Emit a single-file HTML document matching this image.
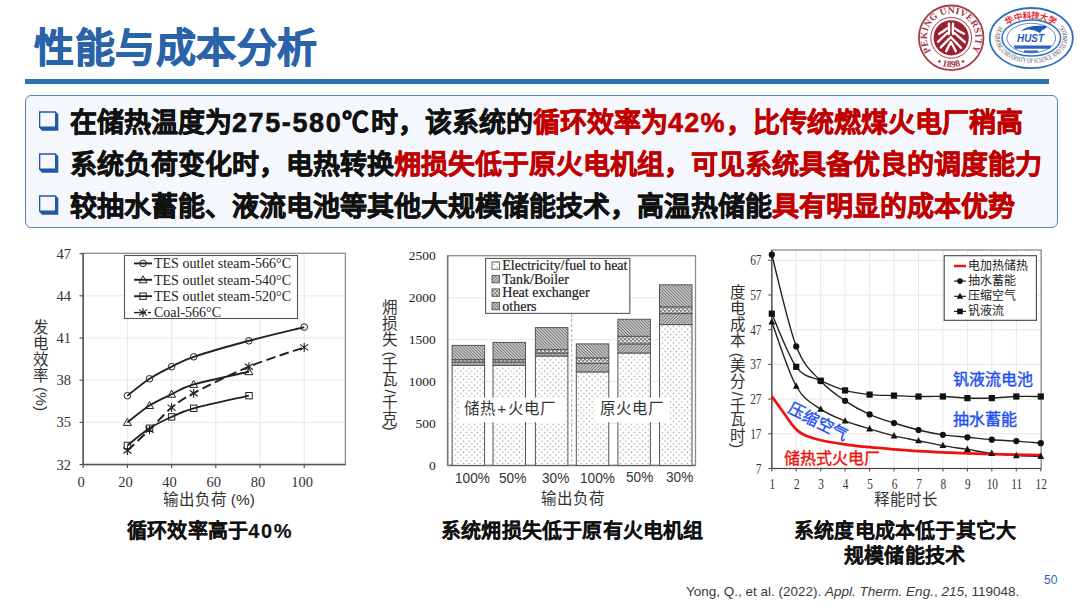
<!DOCTYPE html>
<html lang="zh-CN"><head><meta charset="utf-8">
<style>
html,body{margin:0;padding:0;}
body{width:1080px;height:608px;position:relative;overflow:hidden;background:#fff;font-family:"Liberation Sans",sans-serif;}
.abs{position:absolute;white-space:nowrap;}
#title{left:34px;top:23px;font-size:40px;line-height:50px;font-weight:bold;color:#2b63aa;letter-spacing:0.5px;-webkit-text-stroke:0.9px #2b63aa;}
#rule{left:25px;top:79.4px;width:1023.5px;height:4.5px;background:#2e72b6;}
#box{left:25px;top:95px;width:1032.5px;height:133px;box-sizing:border-box;border:1.8px solid #5a84be;border-radius:6px;background:#f4f7fc;}
.bl{left:70px;font-size:27px;line-height:30px;font-weight:bold;color:#111;-webkit-text-stroke:0.6px currentColor;}
.red{color:#c00000;}
.cap{font-size:20px;line-height:24px;font-weight:bold;color:#111;-webkit-text-stroke:0.15px currentColor;letter-spacing:0.2px;}
.vl{font-size:16px;line-height:18px;color:#333;writing-mode:vertical-rl;text-orientation:mixed;height:200px;}
.rot{display:inline-block;transform:rotate(90deg);}
.lab{font-size:15.5px;line-height:18px;color:#333;font-weight:300;}
.pct{transform:scaleX(0.88);transform-origin:0 50%;}
.blue{color:#1e4ff0;font-size:16px;line-height:18px;-webkit-text-stroke:0.4px currentColor;}
</style></head><body>
<div id="title" class="abs">性能与成本分析</div>
<div id="rule" class="abs"></div>
<div id="box" class="abs"></div>
<svg class="abs" style="left:0;top:0" width="1080" height="608">
  <defs>
    <path id="chk" fill="#2158a6" fill-rule="evenodd" d="M0 0H16.5L19.3 3V19.6H3L0 16.4Z M1.3 1.5V15.4H16V1.5Z"/>
  </defs>
  <use href="#chk" x="39" y="111.2"/>
  <use href="#chk" x="39" y="153.2"/>
  <use href="#chk" x="39" y="195.2"/>

<!-- PKU logo -->
<g id="pku">
  <defs>
    <path id="pkuTop" d="M931.05 51.39 A24.30 24.30 0 1 1 971.35 51.39"/>
    <path id="pkuBot" d="M935.51 62.90 A29.60 29.60 0 0 0 966.89 62.90"/>
    <path id="hustBot" d="M999.34 26.36 A36.20 25.00 0 1 0 1063.26 26.36"/>
    <path id="hustTop" d="M1004.89 28.20 A30.50 19.80 0 0 1 1057.71 28.20"/>
  </defs>
  <circle cx="951.2" cy="37.8" r="32.3" fill="#fff" stroke="#a83a4c" stroke-width="1.8"/>
  <circle cx="951.2" cy="37.8" r="20.4" fill="none" stroke="#a83a4c" stroke-width="1"/>
  <circle cx="951.2" cy="37.8" r="17.6" fill="#9c1f30"/>
  <text style="font-family:'Liberation Serif',serif;font-size:9.6px;font-weight:bold" fill="#a33447"><textPath href="#pkuTop" textLength="104" lengthAdjust="spacing">PEKING UNIVERSITY</textPath></text>
  <text style="font-family:'Liberation Serif',serif;font-size:9.6px;font-weight:bold" fill="#a33447" text-anchor="middle"><textPath href="#pkuBot" startOffset="50%">• 1898 •</textPath></text>
  <g fill="none" stroke="#fff" stroke-width="2.35" stroke-linecap="round">
    <path d="M948.9 23.6 Q949.3 29 948.9 34"/>
    <path d="M953 23.6 Q952.6 29 953 34"/>
    <path d="M947.3 28.2 Q943 31.5 939.2 33.8"/>
    <path d="M947.3 33.2 Q942 38 938 41.8"/>
    <path d="M954.6 28.2 Q959 31.5 964 33.8"/>
    <path d="M954.6 33.2 Q960 38 964.8 42.2"/>
    <path d="M950.9 37.2 Q945 43 940.8 47.4"/>
    <path d="M950.9 37.2 Q956.5 43 961 47.8"/>
    <path d="M950.9 42.2 Q948 47 946.2 51.2"/>
    <path d="M950.9 42.2 Q954 47 955.8 51.2"/>
  </g>
</g>
<!-- HUST logo -->
<g id="hust">
  <ellipse cx="1031.3" cy="38.1" rx="41.6" ry="30.1" fill="#fff" stroke="#2f6fc0" stroke-width="1.8"/>
  <ellipse cx="1031.3" cy="38.1" rx="29.3" ry="18.0" fill="none" stroke="#2f6fc0" stroke-width="1.5"/>
  <ellipse cx="1031.3" cy="38.1" rx="24.3" ry="14.8" fill="none" stroke="#4a82cc" stroke-width="0.9"/>
  <text style="font-family:'Liberation Serif',serif;font-size:7.2px" fill="#555"><textPath href="#hustBot" textLength="127" lengthAdjust="spacingAndGlyphs">HUAZHONG UNIVERSITY OF SCIENCE AND TECHNOLOGY</textPath></text>
  <text style="font-family:'Liberation Sans',sans-serif;font-size:8.5px;font-weight:bold" fill="#e52a2a" text-anchor="middle"><textPath href="#hustTop" startOffset="50%" textLength="50" lengthAdjust="spacing">华中科技大学</textPath></text>
  <path d="M1021 31.5 Q1026 24.5 1047 26 Q1046 29 1042 30 L1040 33 Q1034 29 1028 29.5 Q1024 30 1021 31.5Z" fill="#1d5cb5"/>
  <text x="1030.5" y="41.5" text-anchor="middle" style="font-family:'Liberation Sans',sans-serif;font-size:10.5px;font-weight:bold;font-style:italic" fill="#1d5cb5" textLength="27" lengthAdjust="spacingAndGlyphs">HUST</text>
  <path d="M1013.5 45.6 H1051.5 L1050 48.8 H1015 Z" fill="#2a66bb"/>
  <rect x="1024" y="50.4" width="14" height="2.4" fill="#3a72c0"/>
</g>
<g id="c1">
<line x1="127.4" y1="253.3" x2="127.4" y2="464.6" stroke="#e8e8e8" stroke-width="1"/>
<line x1="171.6" y1="253.3" x2="171.6" y2="464.6" stroke="#e8e8e8" stroke-width="1"/>
<line x1="215.8" y1="253.3" x2="215.8" y2="464.6" stroke="#e8e8e8" stroke-width="1"/>
<line x1="260.0" y1="253.3" x2="260.0" y2="464.6" stroke="#e8e8e8" stroke-width="1"/>
<line x1="304.2" y1="253.3" x2="304.2" y2="464.6" stroke="#e8e8e8" stroke-width="1"/>
<line x1="83.2" y1="422.4" x2="345.4" y2="422.4" stroke="#e8e8e8" stroke-width="1"/>
<line x1="83.2" y1="380.2" x2="345.4" y2="380.2" stroke="#e8e8e8" stroke-width="1"/>
<line x1="83.2" y1="338.0" x2="345.4" y2="338.0" stroke="#e8e8e8" stroke-width="1"/>
<line x1="83.2" y1="295.8" x2="345.4" y2="295.8" stroke="#e8e8e8" stroke-width="1"/>
<rect x="83.2" y="253.3" width="262.2" height="211.3" fill="none" stroke="#8c8c8c" stroke-width="1.3"/>
<line x1="83.2" y1="253.3" x2="83.2" y2="464.6" stroke="#555" stroke-width="1.5"/>
<line x1="83.2" y1="464.6" x2="345.4" y2="464.6" stroke="#555" stroke-width="1.5"/>
<line x1="79.5" y1="464.6" x2="83.2" y2="464.6" stroke="#555" stroke-width="1.2"/>
<text x="71" y="469.6" text-anchor="end" style="font-family:'Liberation Serif',serif;font-size:14.5px" fill="#333">32</text>
<line x1="79.5" y1="422.4" x2="83.2" y2="422.4" stroke="#555" stroke-width="1.2"/>
<text x="71" y="427.4" text-anchor="end" style="font-family:'Liberation Serif',serif;font-size:14.5px" fill="#333">35</text>
<line x1="79.5" y1="380.2" x2="83.2" y2="380.2" stroke="#555" stroke-width="1.2"/>
<text x="71" y="385.2" text-anchor="end" style="font-family:'Liberation Serif',serif;font-size:14.5px" fill="#333">38</text>
<line x1="79.5" y1="338.0" x2="83.2" y2="338.0" stroke="#555" stroke-width="1.2"/>
<text x="71" y="343.0" text-anchor="end" style="font-family:'Liberation Serif',serif;font-size:14.5px" fill="#333">41</text>
<line x1="79.5" y1="295.8" x2="83.2" y2="295.8" stroke="#555" stroke-width="1.2"/>
<text x="71" y="300.8" text-anchor="end" style="font-family:'Liberation Serif',serif;font-size:14.5px" fill="#333">44</text>
<line x1="79.5" y1="253.6" x2="83.2" y2="253.6" stroke="#555" stroke-width="1.2"/>
<text x="71" y="258.6" text-anchor="end" style="font-family:'Liberation Serif',serif;font-size:14.5px" fill="#333">47</text>
<line x1="83.2" y1="464.6" x2="83.2" y2="468" stroke="#555" stroke-width="1.2"/>
<text x="81.2" y="487" text-anchor="middle" style="font-family:'Liberation Serif',serif;font-size:14.5px" fill="#333">0</text>
<line x1="127.4" y1="464.6" x2="127.4" y2="468" stroke="#555" stroke-width="1.2"/>
<text x="125.4" y="487" text-anchor="middle" style="font-family:'Liberation Serif',serif;font-size:14.5px" fill="#333">20</text>
<line x1="171.6" y1="464.6" x2="171.6" y2="468" stroke="#555" stroke-width="1.2"/>
<text x="169.6" y="487" text-anchor="middle" style="font-family:'Liberation Serif',serif;font-size:14.5px" fill="#333">40</text>
<line x1="215.8" y1="464.6" x2="215.8" y2="468" stroke="#555" stroke-width="1.2"/>
<text x="213.8" y="487" text-anchor="middle" style="font-family:'Liberation Serif',serif;font-size:14.5px" fill="#333">60</text>
<line x1="260.0" y1="464.6" x2="260.0" y2="468" stroke="#555" stroke-width="1.2"/>
<text x="258.0" y="487" text-anchor="middle" style="font-family:'Liberation Serif',serif;font-size:14.5px" fill="#333">80</text>
<line x1="304.2" y1="464.6" x2="304.2" y2="468" stroke="#555" stroke-width="1.2"/>
<text x="302.2" y="487" text-anchor="middle" style="font-family:'Liberation Serif',serif;font-size:14.5px" fill="#333">100</text>
<path d="M127.40 395.66 C131.08 392.84 142.13 383.60 149.50 378.77 C156.87 373.94 164.23 370.33 171.60 366.67 C178.97 363.01 180.81 361.14 193.70 356.82 C206.59 352.51 230.53 345.73 248.95 340.78 C267.37 335.84 294.99 329.41 304.20 327.14" fill="none" stroke="#222" stroke-width="1.9"/>
<path d="M127.40 422.39 C131.08 419.58 142.13 410.20 149.50 405.51 C156.87 400.82 164.23 397.77 171.60 394.25 C178.97 390.73 180.81 388.15 193.70 384.40 C206.59 380.65 239.74 373.85 248.95 371.74" fill="none" stroke="#222" stroke-width="1.9"/>
<path d="M127.40 445.46 C131.08 442.60 142.13 433.06 149.50 428.30 C156.87 423.54 164.23 420.23 171.60 416.90 C178.97 413.57 180.81 411.86 193.70 408.32 C206.59 404.78 239.74 397.77 248.95 395.66" fill="none" stroke="#222" stroke-width="1.9"/>
<path d="M127.40 450.53 C131.08 447.06 142.13 436.86 149.50 429.71 C156.87 422.55 164.23 413.69 171.60 407.62 C178.97 401.54 180.81 400.09 193.70 393.27 C206.59 386.44 230.53 374.32 248.95 366.67 C267.37 359.03 294.99 350.61 304.20 347.40" fill="none" stroke="#222" stroke-width="1.9" stroke-dasharray="9.5 4.5"/>
<circle cx="127.4" cy="395.7" r="3.3" fill="none" stroke="#222" stroke-width="1"/>
<circle cx="149.5" cy="378.8" r="3.3" fill="none" stroke="#222" stroke-width="1"/>
<circle cx="171.6" cy="366.7" r="3.3" fill="none" stroke="#222" stroke-width="1"/>
<circle cx="193.7" cy="356.8" r="3.3" fill="none" stroke="#222" stroke-width="1"/>
<circle cx="248.9" cy="340.8" r="3.3" fill="none" stroke="#222" stroke-width="1"/>
<circle cx="304.2" cy="327.1" r="3.3" fill="none" stroke="#222" stroke-width="1"/>
<path d="M127.4 418.4L131.4 425.4L123.4 425.4Z" fill="none" stroke="#222" stroke-width="1"/>
<path d="M149.5 401.5L153.5 408.5L145.5 408.5Z" fill="none" stroke="#222" stroke-width="1"/>
<path d="M171.6 390.2L175.6 397.2L167.6 397.2Z" fill="none" stroke="#222" stroke-width="1"/>
<path d="M193.7 380.4L197.7 387.4L189.7 387.4Z" fill="none" stroke="#222" stroke-width="1"/>
<path d="M248.9 367.7L252.9 374.7L244.9 374.7Z" fill="none" stroke="#222" stroke-width="1"/>
<rect x="124.2" y="442.3" width="6.4" height="6.4" fill="none" stroke="#222" stroke-width="1"/>
<rect x="146.3" y="425.1" width="6.4" height="6.4" fill="none" stroke="#222" stroke-width="1"/>
<rect x="168.4" y="413.7" width="6.4" height="6.4" fill="none" stroke="#222" stroke-width="1"/>
<rect x="190.5" y="405.1" width="6.4" height="6.4" fill="none" stroke="#222" stroke-width="1"/>
<rect x="245.8" y="392.5" width="6.4" height="6.4" fill="none" stroke="#222" stroke-width="1"/>
<path d="M123.4 447.5L131.4 453.5M123.4 453.5L131.4 447.5M127.4 446.0L127.4 455.0" stroke="#222" stroke-width="1.1"/>
<path d="M145.5 426.7L153.5 432.7M145.5 432.7L153.5 426.7M149.5 425.2L149.5 434.2" stroke="#222" stroke-width="1.1"/>
<path d="M167.6 404.6L175.6 410.6M167.6 410.6L175.6 404.6M171.6 403.1L171.6 412.1" stroke="#222" stroke-width="1.1"/>
<path d="M189.7 390.3L197.7 396.3M189.7 396.3L197.7 390.3M193.7 388.8L193.7 397.8" stroke="#222" stroke-width="1.1"/>
<path d="M244.9 363.7L252.9 369.7M244.9 369.7L252.9 363.7M248.9 362.2L248.9 371.2" stroke="#222" stroke-width="1.1"/>
<path d="M300.2 344.4L308.2 350.4M300.2 350.4L308.2 344.4M304.2 342.9L304.2 351.9" stroke="#222" stroke-width="1.1"/>
<rect x="124.5" y="255.5" width="173" height="63" fill="#fff" stroke="#555" stroke-width="1.1"/>
<line x1="134" y1="263.4" x2="152" y2="263.4" stroke="#222" stroke-width="1.9"/>
<circle cx="143.0" cy="263.4" r="3.3" fill="none" stroke="#222" stroke-width="1"/>
<text x="154" y="268.2" style="font-family:'Liberation Serif',serif;font-size:14px" fill="#222">TES outlet steam-566°C</text>
<line x1="134" y1="279.8" x2="152" y2="279.8" stroke="#222" stroke-width="1.9"/>
<path d="M143.0 275.8L147.0 282.8L139.0 282.8Z" fill="none" stroke="#222" stroke-width="1"/>
<text x="154" y="284.6" style="font-family:'Liberation Serif',serif;font-size:14px" fill="#222">TES outlet steam-540°C</text>
<line x1="134" y1="296.2" x2="152" y2="296.2" stroke="#222" stroke-width="1.9"/>
<rect x="139.8" y="293.0" width="6.4" height="6.4" fill="none" stroke="#222" stroke-width="1"/>
<text x="154" y="301.0" style="font-family:'Liberation Serif',serif;font-size:14px" fill="#222">TES outlet steam-520°C</text>
<line x1="134" y1="312.6" x2="146" y2="312.6" stroke="#222" stroke-width="1.4"/>
<line x1="148" y1="312.6" x2="151" y2="312.6" stroke="#222" stroke-width="1.4"/>
<path d="M139.0 309.6L147.0 315.6M139.0 315.6L147.0 309.6M143.0 308.1L143.0 317.1" stroke="#222" stroke-width="1.1"/>
<text x="154" y="317.4" style="font-family:'Liberation Serif',serif;font-size:14px" fill="#222">Coal-566°C</text>
</g>
<defs><pattern id="dots" width="5.6" height="5.6" patternUnits="userSpaceOnUse"><rect width="5.6" height="5.6" fill="#fff"/><rect x="0.8" y="0.8" width="1.3" height="1.3" fill="#a0a0a0"/><rect x="3.6" y="3.6" width="1.3" height="1.3" fill="#a0a0a0"/></pattern><pattern id="hatch" width="2.2" height="2.2" patternUnits="userSpaceOnUse" patternTransform="rotate(45)"><rect width="2.2" height="2.2" fill="#d2d2d2"/><rect width="0.95" height="2.2" fill="#707070"/></pattern><pattern id="hatch2" width="2.2" height="2.2" patternUnits="userSpaceOnUse" patternTransform="rotate(-45)"><rect width="2.2" height="2.2" fill="#d2d2d2"/><rect width="0.95" height="2.2" fill="#707070"/></pattern><pattern id="check" width="4" height="4" patternUnits="userSpaceOnUse"><rect width="4" height="4" fill="#8a8a8a"/><rect x="0" y="0.5" width="2.2" height="1.4" fill="#f2f2f2"/><rect x="2" y="2.5" width="2.2" height="1.4" fill="#f2f2f2"/></pattern></defs>
<g id="c2">
<line x1="447.6" y1="423.5" x2="695.5" y2="423.5" stroke="#e8e8e8" stroke-width="1"/>
<line x1="447.6" y1="381.6" x2="695.5" y2="381.6" stroke="#e8e8e8" stroke-width="1"/>
<line x1="447.6" y1="339.7" x2="695.5" y2="339.7" stroke="#e8e8e8" stroke-width="1"/>
<line x1="447.6" y1="297.8" x2="695.5" y2="297.8" stroke="#e8e8e8" stroke-width="1"/>
<rect x="447.6" y="255.7" width="247.9" height="209.7" fill="none" stroke="#8c8c8c" stroke-width="1.3"/>
<line x1="447.6" y1="255.7" x2="447.6" y2="465.4" stroke="#777" stroke-width="1.5"/>
<line x1="447.6" y1="465.4" x2="695.5" y2="465.4" stroke="#777" stroke-width="1.5"/>
<text x="435.8" y="469.7" text-anchor="end" style="font-family:'Liberation Serif',serif;font-size:13.5px" fill="#1a1a1a">0</text>
<text x="435.8" y="427.8" text-anchor="end" style="font-family:'Liberation Serif',serif;font-size:13.5px" fill="#1a1a1a">500</text>
<text x="435.8" y="385.9" text-anchor="end" style="font-family:'Liberation Serif',serif;font-size:13.5px" fill="#1a1a1a">1000</text>
<text x="435.8" y="344.0" text-anchor="end" style="font-family:'Liberation Serif',serif;font-size:13.5px" fill="#1a1a1a">1500</text>
<text x="435.8" y="302.1" text-anchor="end" style="font-family:'Liberation Serif',serif;font-size:13.5px" fill="#1a1a1a">2000</text>
<text x="435.8" y="260.2" text-anchor="end" style="font-family:'Liberation Serif',serif;font-size:13.5px" fill="#1a1a1a">2500</text>
<line x1="571.7" y1="314" x2="571.7" y2="465.4" stroke="#aaa" stroke-width="1" stroke-dasharray="3 2"/>
<rect x="452.1" y="365.4" width="32.5" height="100.0" fill="url(#dots)" stroke="#555" stroke-width="1"/>
<rect x="452.1" y="362.0" width="32.5" height="3.4" fill="url(#hatch)" stroke="#555" stroke-width="1"/>
<rect x="452.1" y="359.6" width="32.5" height="2.4" fill="url(#check)" stroke="#555" stroke-width="1"/>
<rect x="452.1" y="345.4" width="32.5" height="14.2" fill="url(#hatch2)" stroke="#555" stroke-width="1"/>
<rect x="493.0" y="365.4" width="32.5" height="100.0" fill="url(#dots)" stroke="#555" stroke-width="1"/>
<rect x="493.0" y="362.0" width="32.5" height="3.4" fill="url(#hatch)" stroke="#555" stroke-width="1"/>
<rect x="493.0" y="359.6" width="32.5" height="2.4" fill="url(#check)" stroke="#555" stroke-width="1"/>
<rect x="493.0" y="342.4" width="32.5" height="17.2" fill="url(#hatch2)" stroke="#555" stroke-width="1"/>
<rect x="535.4" y="356.0" width="32.5" height="109.4" fill="url(#dots)" stroke="#555" stroke-width="1"/>
<rect x="535.4" y="353.0" width="32.5" height="3.0" fill="url(#hatch)" stroke="#555" stroke-width="1"/>
<rect x="535.4" y="349.5" width="32.5" height="3.5" fill="url(#check)" stroke="#555" stroke-width="1"/>
<rect x="535.4" y="327.6" width="32.5" height="21.9" fill="url(#hatch2)" stroke="#555" stroke-width="1"/>
<rect x="576.3" y="371.9" width="32.5" height="93.5" fill="url(#dots)" stroke="#555" stroke-width="1"/>
<rect x="576.3" y="363.5" width="32.5" height="8.4" fill="url(#hatch)" stroke="#555" stroke-width="1"/>
<rect x="576.3" y="357.9" width="32.5" height="5.6" fill="url(#check)" stroke="#555" stroke-width="1"/>
<rect x="576.3" y="343.9" width="32.5" height="14.0" fill="url(#hatch2)" stroke="#555" stroke-width="1"/>
<rect x="617.9" y="353.0" width="32.5" height="112.4" fill="url(#dots)" stroke="#555" stroke-width="1"/>
<rect x="617.9" y="343.9" width="32.5" height="9.1" fill="url(#hatch)" stroke="#555" stroke-width="1"/>
<rect x="617.9" y="336.3" width="32.5" height="7.6" fill="url(#check)" stroke="#555" stroke-width="1"/>
<rect x="617.9" y="319.3" width="32.5" height="17.0" fill="url(#hatch2)" stroke="#555" stroke-width="1"/>
<rect x="659.5" y="324.6" width="32.5" height="140.8" fill="url(#dots)" stroke="#555" stroke-width="1"/>
<rect x="659.5" y="313.6" width="32.5" height="11.0" fill="url(#hatch)" stroke="#555" stroke-width="1"/>
<rect x="659.5" y="306.8" width="32.5" height="6.8" fill="url(#check)" stroke="#555" stroke-width="1"/>
<rect x="659.5" y="284.8" width="32.5" height="22.0" fill="url(#hatch2)" stroke="#555" stroke-width="1"/>
<rect x="485.6" y="258.4" width="144.2" height="55" fill="#fff" stroke="#555" stroke-width="1.1"/>
<rect x="492" y="261.9" width="7.6" height="7.4" fill="url(#dots)" stroke="#555" stroke-width="0.9"/>
<text x="502.3" y="270.2" style="font-family:'Liberation Serif',serif;font-size:14px" fill="#222" stroke="#222" stroke-width="0.2">Electricity/fuel to heat</text>
<rect x="492" y="275.4" width="7.6" height="7.4" fill="url(#hatch)" stroke="#555" stroke-width="0.9"/>
<text x="502.3" y="283.7" style="font-family:'Liberation Serif',serif;font-size:14px" fill="#222" stroke="#222" stroke-width="0.2">Tank/Boiler</text>
<rect x="492" y="288.9" width="7.6" height="7.4" fill="url(#check)" stroke="#555" stroke-width="0.9"/>
<text x="502.3" y="297.2" style="font-family:'Liberation Serif',serif;font-size:14px" fill="#222" stroke="#222" stroke-width="0.2">Heat exchanger</text>
<rect x="492" y="302.4" width="7.6" height="7.4" fill="url(#hatch2)" stroke="#555" stroke-width="0.9"/>
<text x="502.3" y="310.7" style="font-family:'Liberation Serif',serif;font-size:14px" fill="#222" stroke="#222" stroke-width="0.2">others</text>
<rect x="459.7" y="397.6" width="105.3" height="24.6" fill="#fff"/>
<rect x="595" y="397.6" width="74" height="24.6" fill="#fff"/>
</g>
<g id="c3">
<line x1="796.2" y1="250.0" x2="796.2" y2="468.5" stroke="#e8e8e8" stroke-width="1"/>
<line x1="820.7" y1="250.0" x2="820.7" y2="468.5" stroke="#e8e8e8" stroke-width="1"/>
<line x1="845.1" y1="250.0" x2="845.1" y2="468.5" stroke="#e8e8e8" stroke-width="1"/>
<line x1="869.6" y1="250.0" x2="869.6" y2="468.5" stroke="#e8e8e8" stroke-width="1"/>
<line x1="894.0" y1="250.0" x2="894.0" y2="468.5" stroke="#e8e8e8" stroke-width="1"/>
<line x1="918.5" y1="250.0" x2="918.5" y2="468.5" stroke="#e8e8e8" stroke-width="1"/>
<line x1="942.9" y1="250.0" x2="942.9" y2="468.5" stroke="#e8e8e8" stroke-width="1"/>
<line x1="967.4" y1="250.0" x2="967.4" y2="468.5" stroke="#e8e8e8" stroke-width="1"/>
<line x1="991.8" y1="250.0" x2="991.8" y2="468.5" stroke="#e8e8e8" stroke-width="1"/>
<line x1="1016.3" y1="250.0" x2="1016.3" y2="468.5" stroke="#e8e8e8" stroke-width="1"/>
<line x1="1040.8" y1="250.0" x2="1040.8" y2="468.5" stroke="#e8e8e8" stroke-width="1"/>
<line x1="771.8" y1="433.8" x2="1041.2" y2="433.8" stroke="#e8e8e8" stroke-width="1"/>
<line x1="771.8" y1="399.1" x2="1041.2" y2="399.1" stroke="#e8e8e8" stroke-width="1"/>
<line x1="771.8" y1="364.4" x2="1041.2" y2="364.4" stroke="#e8e8e8" stroke-width="1"/>
<line x1="771.8" y1="329.7" x2="1041.2" y2="329.7" stroke="#e8e8e8" stroke-width="1"/>
<line x1="771.8" y1="295.0" x2="1041.2" y2="295.0" stroke="#e8e8e8" stroke-width="1"/>
<line x1="771.8" y1="260.3" x2="1041.2" y2="260.3" stroke="#e8e8e8" stroke-width="1"/>
<rect x="771.8" y="250.0" width="269.4" height="218.5" fill="none" stroke="#8c8c8c" stroke-width="1.3"/>
<line x1="771.8" y1="250.0" x2="771.8" y2="468.5" stroke="#444" stroke-width="1.1"/>
<line x1="771.8" y1="468.5" x2="1041.2" y2="468.5" stroke="#444" stroke-width="1.1"/>
<line x1="768.3" y1="468.5" x2="771.8" y2="468.5" stroke="#555" stroke-width="1.1"/>
<text transform="translate(761.5 473.5) scale(0.78 1)" text-anchor="end" style="font-family:'Liberation Serif',serif;font-size:14.5px" fill="#333">7</text>
<line x1="768.3" y1="433.8" x2="771.8" y2="433.8" stroke="#555" stroke-width="1.1"/>
<text transform="translate(761.5 438.8) scale(0.78 1)" text-anchor="end" style="font-family:'Liberation Serif',serif;font-size:14.5px" fill="#333">17</text>
<line x1="768.3" y1="399.1" x2="771.8" y2="399.1" stroke="#555" stroke-width="1.1"/>
<text transform="translate(761.5 404.1) scale(0.78 1)" text-anchor="end" style="font-family:'Liberation Serif',serif;font-size:14.5px" fill="#333">27</text>
<line x1="768.3" y1="364.4" x2="771.8" y2="364.4" stroke="#555" stroke-width="1.1"/>
<text transform="translate(761.5 369.4) scale(0.78 1)" text-anchor="end" style="font-family:'Liberation Serif',serif;font-size:14.5px" fill="#333">37</text>
<line x1="768.3" y1="329.7" x2="771.8" y2="329.7" stroke="#555" stroke-width="1.1"/>
<text transform="translate(761.5 334.7) scale(0.78 1)" text-anchor="end" style="font-family:'Liberation Serif',serif;font-size:14.5px" fill="#333">47</text>
<line x1="768.3" y1="295.0" x2="771.8" y2="295.0" stroke="#555" stroke-width="1.1"/>
<text transform="translate(761.5 300.0) scale(0.78 1)" text-anchor="end" style="font-family:'Liberation Serif',serif;font-size:14.5px" fill="#333">57</text>
<line x1="768.3" y1="260.3" x2="771.8" y2="260.3" stroke="#555" stroke-width="1.1"/>
<text transform="translate(761.5 265.3) scale(0.78 1)" text-anchor="end" style="font-family:'Liberation Serif',serif;font-size:14.5px" fill="#333">67</text>
<line x1="771.8" y1="468.5" x2="771.8" y2="471.5" stroke="#555" stroke-width="1.1"/>
<text transform="translate(772.3 489.3) scale(0.78 1)" text-anchor="middle" style="font-family:'Liberation Serif',serif;font-size:14.5px" fill="#333">1</text>
<line x1="796.2" y1="468.5" x2="796.2" y2="471.5" stroke="#555" stroke-width="1.1"/>
<text transform="translate(796.8 489.3) scale(0.78 1)" text-anchor="middle" style="font-family:'Liberation Serif',serif;font-size:14.5px" fill="#333">2</text>
<line x1="820.7" y1="468.5" x2="820.7" y2="471.5" stroke="#555" stroke-width="1.1"/>
<text transform="translate(821.2 489.3) scale(0.78 1)" text-anchor="middle" style="font-family:'Liberation Serif',serif;font-size:14.5px" fill="#333">3</text>
<line x1="845.1" y1="468.5" x2="845.1" y2="471.5" stroke="#555" stroke-width="1.1"/>
<text transform="translate(845.6 489.3) scale(0.78 1)" text-anchor="middle" style="font-family:'Liberation Serif',serif;font-size:14.5px" fill="#333">4</text>
<line x1="869.6" y1="468.5" x2="869.6" y2="471.5" stroke="#555" stroke-width="1.1"/>
<text transform="translate(870.1 489.3) scale(0.78 1)" text-anchor="middle" style="font-family:'Liberation Serif',serif;font-size:14.5px" fill="#333">5</text>
<line x1="894.0" y1="468.5" x2="894.0" y2="471.5" stroke="#555" stroke-width="1.1"/>
<text transform="translate(894.5 489.3) scale(0.78 1)" text-anchor="middle" style="font-family:'Liberation Serif',serif;font-size:14.5px" fill="#333">6</text>
<line x1="918.5" y1="468.5" x2="918.5" y2="471.5" stroke="#555" stroke-width="1.1"/>
<text transform="translate(919.0 489.3) scale(0.78 1)" text-anchor="middle" style="font-family:'Liberation Serif',serif;font-size:14.5px" fill="#333">7</text>
<line x1="942.9" y1="468.5" x2="942.9" y2="471.5" stroke="#555" stroke-width="1.1"/>
<text transform="translate(943.4 489.3) scale(0.78 1)" text-anchor="middle" style="font-family:'Liberation Serif',serif;font-size:14.5px" fill="#333">8</text>
<line x1="967.4" y1="468.5" x2="967.4" y2="471.5" stroke="#555" stroke-width="1.1"/>
<text transform="translate(967.9 489.3) scale(0.78 1)" text-anchor="middle" style="font-family:'Liberation Serif',serif;font-size:14.5px" fill="#333">9</text>
<line x1="991.8" y1="468.5" x2="991.8" y2="471.5" stroke="#555" stroke-width="1.1"/>
<text transform="translate(992.3 489.3) scale(0.78 1)" text-anchor="middle" style="font-family:'Liberation Serif',serif;font-size:14.5px" fill="#333">10</text>
<line x1="1016.3" y1="468.5" x2="1016.3" y2="471.5" stroke="#555" stroke-width="1.1"/>
<text transform="translate(1016.8 489.3) scale(0.78 1)" text-anchor="middle" style="font-family:'Liberation Serif',serif;font-size:14.5px" fill="#333">11</text>
<line x1="1040.8" y1="468.5" x2="1040.8" y2="471.5" stroke="#555" stroke-width="1.1"/>
<text transform="translate(1041.2 489.3) scale(0.78 1)" text-anchor="middle" style="font-family:'Liberation Serif',serif;font-size:14.5px" fill="#333">12</text>
<path d="M771.80 254.75 C775.88 270.02 788.10 325.30 796.25 346.36 C804.40 367.41 812.55 371.98 820.70 381.06 C828.85 390.14 837.00 395.28 845.15 400.83 C853.30 406.39 861.45 410.67 869.60 414.37 C877.75 418.07 885.90 420.44 894.05 423.04 C902.20 425.65 910.35 428.02 918.50 429.98 C926.65 431.95 934.80 433.63 942.95 434.84 C951.10 436.06 959.25 436.46 967.40 437.27 C975.55 438.08 983.70 439.06 991.85 439.70 C1000.00 440.34 1008.15 440.51 1016.30 441.09 C1024.45 441.67 1036.67 442.82 1040.75 443.17" fill="none" stroke="#222" stroke-width="1.4"/>
<path d="M771.80 313.74 C775.88 322.59 788.10 355.67 796.25 366.83 C804.40 377.99 812.55 376.78 820.70 380.71 C828.85 384.64 837.00 388.11 845.15 390.43 C853.30 392.74 861.45 393.72 869.60 394.59 C877.75 395.46 885.90 395.31 894.05 395.63 C902.20 395.95 910.35 396.35 918.50 396.50 C926.65 396.64 934.80 396.24 942.95 396.50 C951.10 396.76 959.25 397.80 967.40 398.06 C975.55 398.32 983.70 398.32 991.85 398.06 C1000.00 397.80 1008.15 396.76 1016.30 396.50 C1024.45 396.24 1036.67 396.50 1040.75 396.50" fill="none" stroke="#222" stroke-width="1.4"/>
<path d="M771.80 322.07 C775.88 332.77 788.10 371.74 796.25 386.26 C804.40 400.78 812.55 403.38 820.70 409.16 C828.85 414.95 837.00 417.66 845.15 420.96 C853.30 424.26 861.45 426.46 869.60 428.94 C877.75 431.43 885.90 433.92 894.05 435.88 C902.20 437.85 910.35 439.12 918.50 440.74 C926.65 442.36 934.80 444.15 942.95 445.60 C951.10 447.04 959.25 448.11 967.40 449.42 C975.55 450.72 983.70 452.36 991.85 453.41 C1000.00 454.45 1008.15 455.17 1016.30 455.66 C1024.45 456.15 1036.67 456.24 1040.75 456.36" fill="none" stroke="#222" stroke-width="1.4"/>
<path d="M771.80 396.30 C773.83 399.12 780.72 408.62 784.00 413.20 C787.28 417.78 789.25 420.90 791.50 423.80 C793.75 426.70 795.08 428.60 797.50 430.60 C799.92 432.60 802.12 434.20 806.00 435.80 C809.88 437.40 814.30 438.78 820.80 440.20 C827.30 441.62 836.87 443.13 845.00 444.30 C853.13 445.47 861.43 446.37 869.60 447.20 C877.77 448.03 885.90 448.65 894.05 449.30 C902.20 449.95 910.35 450.58 918.50 451.10 C926.65 451.62 934.80 452.02 942.95 452.40 C951.10 452.78 959.25 453.10 967.40 453.40 C975.55 453.70 983.70 453.98 991.85 454.20 C1000.00 454.42 1008.15 454.57 1016.30 454.70 C1024.45 454.83 1036.67 454.95 1040.75 455.00" fill="none" stroke="#ee1111" stroke-width="2.7"/>
<circle cx="771.8" cy="254.7" r="3.1" fill="#111"/>
<circle cx="796.2" cy="346.4" r="3.1" fill="#111"/>
<circle cx="820.7" cy="381.1" r="3.1" fill="#111"/>
<circle cx="845.1" cy="400.8" r="3.1" fill="#111"/>
<circle cx="869.6" cy="414.4" r="3.1" fill="#111"/>
<circle cx="894.0" cy="423.0" r="3.1" fill="#111"/>
<circle cx="918.5" cy="430.0" r="3.1" fill="#111"/>
<circle cx="942.9" cy="434.8" r="3.1" fill="#111"/>
<circle cx="967.4" cy="437.3" r="3.1" fill="#111"/>
<circle cx="991.8" cy="439.7" r="3.1" fill="#111"/>
<circle cx="1016.3" cy="441.1" r="3.1" fill="#111"/>
<circle cx="1040.8" cy="443.2" r="3.1" fill="#111"/>
<rect x="768.7" y="310.6" width="6.2" height="6.2" fill="#111"/>
<rect x="793.1" y="363.7" width="6.2" height="6.2" fill="#111"/>
<rect x="817.6" y="377.6" width="6.2" height="6.2" fill="#111"/>
<rect x="842.0" y="387.3" width="6.2" height="6.2" fill="#111"/>
<rect x="866.5" y="391.5" width="6.2" height="6.2" fill="#111"/>
<rect x="890.9" y="392.5" width="6.2" height="6.2" fill="#111"/>
<rect x="915.4" y="393.4" width="6.2" height="6.2" fill="#111"/>
<rect x="939.8" y="393.4" width="6.2" height="6.2" fill="#111"/>
<rect x="964.3" y="395.0" width="6.2" height="6.2" fill="#111"/>
<rect x="988.7" y="395.0" width="6.2" height="6.2" fill="#111"/>
<rect x="1013.2" y="393.4" width="6.2" height="6.2" fill="#111"/>
<rect x="1037.7" y="393.4" width="6.2" height="6.2" fill="#111"/>
<path d="M771.8 318.3L775.2 324.6L768.4 324.6Z" fill="#111"/>
<path d="M796.2 382.5L799.6 388.8L792.9 388.8Z" fill="#111"/>
<path d="M820.7 405.4L824.1 411.7L817.3 411.7Z" fill="#111"/>
<path d="M845.1 417.2L848.5 423.5L841.8 423.5Z" fill="#111"/>
<path d="M869.6 425.1L873.0 431.4L866.2 431.4Z" fill="#111"/>
<path d="M894.0 432.1L897.4 438.4L890.6 438.4Z" fill="#111"/>
<path d="M918.5 436.9L921.9 443.2L915.1 443.2Z" fill="#111"/>
<path d="M942.9 441.8L946.3 448.1L939.5 448.1Z" fill="#111"/>
<path d="M967.4 445.6L970.8 451.9L964.0 451.9Z" fill="#111"/>
<path d="M991.8 449.6L995.2 455.9L988.4 455.9Z" fill="#111"/>
<path d="M1016.3 451.9L1019.7 458.2L1012.9 458.2Z" fill="#111"/>
<path d="M1040.8 452.6L1044.2 458.9L1037.3 458.9Z" fill="#111"/>
<rect x="944.2" y="255.7" width="92.2" height="64.6" fill="#fff" stroke="#444" stroke-width="1.1"/>
<line x1="954" y1="266.0" x2="966" y2="266.0" stroke="#ee1111" stroke-width="2.4"/>
<text x="967.5" y="270.0" style="font-family:'Liberation Sans',sans-serif;font-size:12px;font-weight:350" fill="#222">电加热储热</text>
<line x1="954" y1="281.1" x2="966" y2="281.1" stroke="#222" stroke-width="1.2"/>
<circle cx="960" cy="281.1" r="2.8" fill="#111"/>
<text x="967.5" y="285.1" style="font-family:'Liberation Sans',sans-serif;font-size:12px;font-weight:350" fill="#222">抽水蓄能</text>
<line x1="954" y1="296.3" x2="966" y2="296.3" stroke="#222" stroke-width="1.2"/>
<path d="M960 292.8L963.3 298.8L956.7 298.8Z" fill="#111"/>
<text x="967.5" y="300.3" style="font-family:'Liberation Sans',sans-serif;font-size:12px;font-weight:350" fill="#222">压缩空气</text>
<line x1="954" y1="311.4" x2="966" y2="311.4" stroke="#222" stroke-width="1.2"/>
<rect x="957.2" y="308.6" width="5.6" height="5.6" fill="#111"/>
<text x="967.5" y="315.4" style="font-family:'Liberation Sans',sans-serif;font-size:12px;font-weight:350" fill="#222">钒液流</text>
</g>
<text x="41.2" y="333.39" text-anchor="middle" style="font-family:'Liberation Sans',sans-serif;font-size:15.5px;font-weight:350" fill="#333">发</text>
<text x="41.2" y="349.19" text-anchor="middle" style="font-family:'Liberation Sans',sans-serif;font-size:15.5px;font-weight:350" fill="#333">电</text>
<text x="41.2" y="365.29" text-anchor="middle" style="font-family:'Liberation Sans',sans-serif;font-size:15.5px;font-weight:350" fill="#333">效</text>
<text x="41.2" y="381.09" text-anchor="middle" style="font-family:'Liberation Sans',sans-serif;font-size:15.5px;font-weight:350" fill="#333">率</text>
<text text-anchor="middle" transform="translate(41.2 399.0) rotate(90)" dy="5.58" style="font-family:'Liberation Sans',sans-serif;font-size:15.5px;font-weight:350" fill="#333">(%)</text>
<text x="390.4" y="312.69" text-anchor="middle" style="font-family:'Liberation Sans',sans-serif;font-size:15.5px;font-weight:350" fill="#333">㶲</text>
<text x="390.4" y="328.79" text-anchor="middle" style="font-family:'Liberation Sans',sans-serif;font-size:15.5px;font-weight:350" fill="#333">损</text>
<text x="390.4" y="344.89" text-anchor="middle" style="font-family:'Liberation Sans',sans-serif;font-size:15.5px;font-weight:350" fill="#333">失</text>
<text text-anchor="middle" transform="translate(390.4 354.2) rotate(90)" dy="5.58" style="font-family:'Liberation Sans',sans-serif;font-size:15.5px;font-weight:350" fill="#333">(</text>
<text x="390.4" y="369.69" text-anchor="middle" style="font-family:'Liberation Sans',sans-serif;font-size:15.5px;font-weight:350" fill="#333">千</text>
<text x="390.4" y="385.39" text-anchor="middle" style="font-family:'Liberation Sans',sans-serif;font-size:15.5px;font-weight:350" fill="#333">瓦</text>
<text text-anchor="middle" transform="translate(390.4 391.6) rotate(90)" dy="5.58" style="font-family:'Liberation Sans',sans-serif;font-size:15.5px;font-weight:350" fill="#333">/</text>
<text x="390.4" y="408.29" text-anchor="middle" style="font-family:'Liberation Sans',sans-serif;font-size:15.5px;font-weight:350" fill="#333">千</text>
<text x="390.4" y="424.39" text-anchor="middle" style="font-family:'Liberation Sans',sans-serif;font-size:15.5px;font-weight:350" fill="#333">克</text>
<text text-anchor="middle" transform="translate(390.4 428.0) rotate(90)" dy="5.58" style="font-family:'Liberation Sans',sans-serif;font-size:15.5px;font-weight:350" fill="#333">)</text>
<text x="737.8" y="297.89" text-anchor="middle" style="font-family:'Liberation Sans',sans-serif;font-size:15.5px;font-weight:350" fill="#333">度</text>
<text x="737.8" y="314.29" text-anchor="middle" style="font-family:'Liberation Sans',sans-serif;font-size:15.5px;font-weight:350" fill="#333">电</text>
<text x="737.8" y="330.19" text-anchor="middle" style="font-family:'Liberation Sans',sans-serif;font-size:15.5px;font-weight:350" fill="#333">成</text>
<text x="737.8" y="345.79" text-anchor="middle" style="font-family:'Liberation Sans',sans-serif;font-size:15.5px;font-weight:350" fill="#333">本</text>
<text text-anchor="middle" transform="translate(737.8 355.4) rotate(90)" dy="5.58" style="font-family:'Liberation Sans',sans-serif;font-size:15.5px;font-weight:350" fill="#333">(</text>
<text x="737.8" y="371.19" text-anchor="middle" style="font-family:'Liberation Sans',sans-serif;font-size:15.5px;font-weight:350" fill="#333">美</text>
<text x="737.8" y="386.89" text-anchor="middle" style="font-family:'Liberation Sans',sans-serif;font-size:15.5px;font-weight:350" fill="#333">分</text>
<text text-anchor="middle" transform="translate(737.8 394.0) rotate(90)" dy="5.58" style="font-family:'Liberation Sans',sans-serif;font-size:15.5px;font-weight:350" fill="#333">/</text>
<text x="737.8" y="410.79" text-anchor="middle" style="font-family:'Liberation Sans',sans-serif;font-size:15.5px;font-weight:350" fill="#333">千</text>
<text x="737.8" y="425.49" text-anchor="middle" style="font-family:'Liberation Sans',sans-serif;font-size:15.5px;font-weight:350" fill="#333">瓦</text>
<text x="737.8" y="440.69" text-anchor="middle" style="font-family:'Liberation Sans',sans-serif;font-size:15.5px;font-weight:350" fill="#333">时</text>
<text text-anchor="middle" transform="translate(737.8 445.5) rotate(90)" dy="5.58" style="font-family:'Liberation Sans',sans-serif;font-size:15.5px;font-weight:350" fill="#333">)</text>
</svg>
<div class="abs bl" style="top:108px">在储热温度为<span style="letter-spacing:1.6px">275-580℃</span>时，该系统的<span class="red">循环效率为<span style="letter-spacing:1.3px">42%</span>，比传统燃煤火电厂稍高</span></div>
<div class="abs bl" style="top:150px">系统负荷变化时，电热转换<span class="red">㶲损失低于原火电机组，可见系统具备优良的调度能力</span></div>
<div class="abs bl" style="top:192px">较抽水蓄能、液流电池等其他大规模储能技术，高温热储能<span class="red">具有明显的成本优势</span></div>

<!-- chart 1 labels -->
<div class="abs lab" style="left:162.5px;top:491px">输出负荷 (%)</div>
<!-- chart 2 labels -->
<div class="abs lab" style="left:464px;top:400px">储热<span style="margin:0 1.3px">+</span>火电厂</div>
<div class="abs lab" style="left:600px;top:400px">原火电厂</div>
<div class="abs lab pct" style="left:454.5px;top:469px">100%</div>
<div class="abs lab pct" style="left:499px;top:469px">50%</div>
<div class="abs lab pct" style="left:542px;top:468.5px">30%</div>
<div class="abs lab pct" style="left:580px;top:469px">100%</div>
<div class="abs lab pct" style="left:626px;top:468px">50%</div>
<div class="abs lab pct" style="left:666px;top:468px">30%</div>
<div class="abs lab" style="left:541px;top:490px">输出负荷</div>
<!-- chart 3 labels -->
<div class="abs lab" style="left:874px;top:491px">释能时长</div>
<div class="abs blue" style="left:953px;top:371px">钒液流电池</div>
<div class="abs blue" style="left:953px;top:411px">抽水蓄能</div>
<div class="abs blue" style="left:789px;top:399px;transform:rotate(26deg);transform-origin:0 50%">压缩空气</div>
<div class="abs blue" style="left:784px;top:449.5px;color:#ee1111">储热式火电厂</div>

<div class="abs cap" style="left:127px;top:519px">循环效率高于<span style="letter-spacing:1.7px">40%</span></div>
<div class="abs cap" style="left:441px;top:519px">系统㶲损失低于原有火电机组</div>
<div class="abs cap" style="left:794px;top:519px">系统度电成本低于其它大</div>
<div class="abs cap" style="left:844px;top:544px">规模储能技术</div>

<div class="abs" style="left:686px;top:584px;font-size:13.5px;line-height:16px;color:#3a3a3a">Yong, Q., et al. (2022). <i>Appl. Therm. Eng.</i>, <i>215</i>, 119048.</div>
<div class="abs" style="left:1044px;top:573px;font-size:12px;line-height:14px;color:#2f68b0">50</div>
</body></html>
